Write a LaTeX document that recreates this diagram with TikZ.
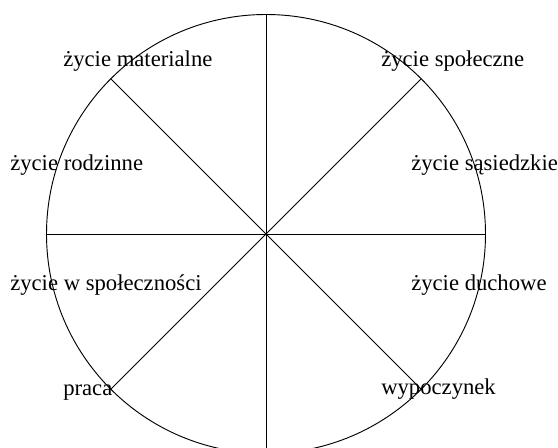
\documentclass[tikz,border=0pt]{standalone}
\usepackage{fontspec}
\setmainfont{Liberation Serif}
\usetikzlibrary{positioning}

\begin{document}
\begin{tikzpicture}[x=0.75pt,y=-0.75pt,
    rim/.style={line width=0.7pt},
    area/.style={anchor=base west,inner sep=0pt,font=\fontsize{17}{20}\selectfont}]
    \useasboundingbox (0,0) rectangle (558,448);
    \clip (0,0) rectangle (558,448);

    % Draw wheel
    \coordinate (hub) at (266,234);
    \draw[rim] (hub) circle (219.5);

    % Draw spokes
    \foreach \a in {0,45,...,315}
        \draw[rim] (hub) -- ++(\a:219.5);

    % Label the areas of life
    \node[area] (matl)  at (63,67)  {życie materialne};
    \node[area] (rodz)  at (10,171) {życie rodzinne};
    \node[area] (wspol) at (10,291) {życie w społeczności};
    \node[area] (praca) at (63,396) {praca};
    \node[area] (spol)  at (381,67) {życie społeczne};
    \node[area] (sas)   at (411,171) {życie sąsiedzkie};
    \node[area] (duch)  at (411,291) {życie duchowe};
    \node[area] (wyp)   at (381,395) {wypoczynek};
\end{tikzpicture}
\end{document}
